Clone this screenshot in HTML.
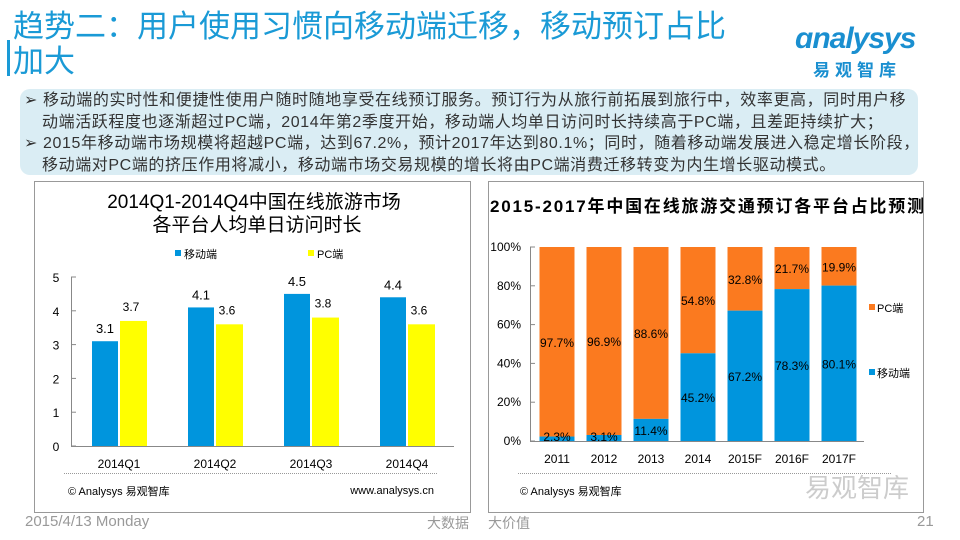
<!DOCTYPE html>
<html><head><meta charset="utf-8">
<style>
body{margin:0;width:960px;height:540px;background:#fff;position:relative;overflow:hidden;font-family:"Liberation Sans","Noto Sans CJK SC",sans-serif}
.a{position:absolute;white-space:nowrap}
</style></head><body>
<div class="a" style="left:7px;top:40px;width:3px;height:36px;background:#1a9ad6"></div>
<div class="a" style="left:13px;top:9px;font-size:31px;line-height:35px;color:#1a9ad6;white-space:normal;width:770px">趋势二：用户使用习惯向移动端迁移，移动预订占比<br>加大</div>
<div class="a" style="left:795px;top:22px;color:#1a8fd0;font-weight:bold">
<div style="font-size:30px;font-style:italic;letter-spacing:-1px">ɑnalysys</div>
<div style="font-size:17px;letter-spacing:5px;margin-left:18px">易观智库</div></div>
<div class="a" style="left:20px;top:89px;width:898px;height:86px;background:#daedf4;border-radius:10px"></div>
<div class="a" style="left:24px;top:90px;font-size:16px;letter-spacing:0.6px;line-height:21.5px;color:#333">
<div>➢ 移动端的实时性和便捷性使用户随时随地享受在线预订服务。预订行为从旅行前拓展到旅行中，效率更高，同时用户移</div>
<div style="padding-left:18px">动端活跃程度也逐渐超过PC端，2014年第2季度开始，移动端人均单日访问时长持续高于PC端，且差距持续扩大；</div>
<div>➢ 2015年移动端市场规模将超越PC端，达到67.2%，预计2017年达到80.1%；同时，随着移动端发展进入稳定增长阶段，</div>
<div style="padding-left:18px">移动端对PC端的挤压作用将减小，移动端市场交易规模的增长将由PC端消费迁移转变为内生增长驱动模式。</div></div>

<svg class="a" style="left:0;top:0" width="960" height="540">
<rect x="34.5" y="181.5" width="436" height="331" fill="none" stroke="#999"/>
<rect x="488.5" y="181.5" width="435" height="331" fill="none" stroke="#999"/>
<g id="L"></g><g id="R"></g>
</svg>

<div class="a" style="left:25px;top:513px;font-size:15px;color:#999">2015/4/13 Monday</div>
<div class="a" style="left:427px;top:513px;font-size:14px;color:#999">大数据</div>
<div class="a" style="left:488px;top:513px;font-size:14px;color:#999">大价值</div>
<div class="a" style="left:917px;top:513px;font-size:15px;color:#999">21</div>

<script>
const quarters=["2014Q1","2014Q2","2014Q3","2014Q4"];
const mobileTime=[3.1,4.1,4.5,4.4];
const pcTime=[3.7,3.6,3.8,3.6];
const leftTicks=[0,1,2,3,4,5];
const years=["2011","2012","2013","2014","2015F","2016F","2017F"];
const mobileShare=[2.3,3.1,11.4,45.2,67.2,78.3,80.1];
const pcShare=[97.7,96.9,88.6,54.8,32.8,21.7,19.9];
const rightTicks=[0,20,40,60,80,100];

const NS="http://www.w3.org/2000/svg";
function mk(p,t,a,txt){const e=document.createElementNS(NS,t);for(const k in a)e.setAttribute(k,a[k]);if(txt!==undefined)e.textContent=txt;p.appendChild(e);return e;}
const F='"Liberation Sans","Noto Sans CJK SC",sans-serif';

// LEFT
const L=document.getElementById('L');
const ly=v=>446-v*33.8, lx=i=>119+i*96;
let t=mk(L,'text',{x:254,y:208,'font-size':19,'text-anchor':'middle','font-family':F},'2014Q1-2014Q4中国在线旅游市场');

t=mk(L,'text',{x:257,y:231,'font-size':19,'text-anchor':'middle','font-family':F},'各平台人均单日访问时长');

t=mk(L,'rect',{x:175,y:250,width:6,height:6,fill:'#0095dd'});

t=mk(L,'text',{x:184,y:258,'font-size':11,'font-family':F},'移动端');

t=mk(L,'rect',{x:308,y:250,width:6,height:6,fill:'#ffff00'});

t=mk(L,'text',{x:317,y:258,'font-size':11,'font-family':F},'PC端');

leftTicks.forEach(v=>{
 t=mk(L,'text',{x:56,y:ly(v)+5,'font-size':12,'text-anchor':'middle','font-family':F},String(v));
 
 mk(L,'line',{x1:71,x2:76,y1:ly(v),y2:ly(v),stroke:'#888'});
});
mk(L,'line',{x1:71.5,x2:71.5,y1:ly(5),y2:446,stroke:'#888'});
mk(L,'line',{x1:71,x2:454,y1:446.5,y2:446.5,stroke:'#888'});
quarters.forEach((q,i)=>{
 const c=lx(i);
 t=mk(L,'rect',{x:c-27,y:ly(mobileTime[i]),width:26,height:446-ly(mobileTime[i]),fill:'#0095dd'});
 
 t=mk(L,'rect',{x:c+1,y:ly(pcTime[i]),width:27,height:446-ly(pcTime[i]),fill:'#ffff00'});
 
 t=mk(L,'text',{x:c-14,y:ly(mobileTime[i])-8,'font-size':13,'text-anchor':'middle','font-family':F},mobileTime[i].toFixed(1));
 
 t=mk(L,'text',{x:c+12,y:ly(pcTime[i])-10,'font-size':12,'text-anchor':'middle','font-family':F},pcTime[i].toFixed(1));
 
 t=mk(L,'text',{x:c,y:468,'font-size':12,'text-anchor':'middle','font-family':F},q);
 
});
mk(L,'line',{x1:64,x2:438,y1:473.5,y2:473.5,stroke:'#999','stroke-dasharray':'1,1'});
t=mk(L,'text',{x:68,y:495,'font-size':11,'font-family':F},'© Analysys 易观智库');

t=mk(L,'text',{x:434,y:494,'font-size':11,'text-anchor':'end','font-family':F},'www.analysys.cn');


// RIGHT
const R=document.getElementById('R');
const ry=v=>441-v*1.94, rx=i=>557+i*47;
t=mk(R,'text',{x:490,y:212,'font-size':17,'font-weight':'bold','font-family':F,textLength:434},'2015-2017年中国在线旅游交通预订各平台占比预测');

rightTicks.forEach(v=>{
 t=mk(R,'text',{x:521,y:ry(v)+4,'font-size':12,'text-anchor':'end','font-family':F},v+'%');
 
 mk(R,'line',{x1:530,x2:535,y1:ry(v),y2:ry(v),stroke:'#888'});
});
mk(R,'line',{x1:530.5,x2:530.5,y1:ry(100),y2:441,stroke:'#888'});
mk(R,'line',{x1:530,x2:864,y1:441.5,y2:441.5,stroke:'#888'});
years.forEach((y,i)=>{
 const c=rx(i),m=ry(mobileShare[i]);
 t=mk(R,'rect',{x:c-17.5,y:ry(100),width:35,height:m-ry(100),fill:'#fb7a1f'});
 
 t=mk(R,'rect',{x:c-17.5,y:m,width:35,height:441-m,fill:'#0095dd'});
 
 t=mk(R,'text',{x:c,y:(ry(100)+m)/2+5,'font-size':12,'text-anchor':'middle','font-family':F},pcShare[i].toFixed(1)+'%');
 
 t=mk(R,'text',{x:c,y:Math.min((m+441)/2+5,441),'font-size':12,'text-anchor':'middle','font-family':F},mobileShare[i].toFixed(1)+'%');
 
 t=mk(R,'text',{x:c,y:463,'font-size':12,'text-anchor':'middle','font-family':F},y);
 
});
t=mk(R,'rect',{x:869,y:304,width:6,height:6,fill:'#fb7a1f'});

t=mk(R,'text',{x:877,y:312,'font-size':11,'font-family':F},'PC端');

t=mk(R,'rect',{x:869,y:369,width:6,height:6,fill:'#0095dd'});

t=mk(R,'text',{x:877,y:377,'font-size':11,'font-family':F},'移动端');

mk(R,'line',{x1:518,x2:892,y1:473.5,y2:473.5,stroke:'#999','stroke-dasharray':'1,1'});
t=mk(R,'text',{x:520,y:495,'font-size':11,'font-family':F},'© Analysys 易观智库');

t=mk(R,'text',{x:805,y:497,'font-size':26,'fill':'#ccc','font-family':F},'易观智库');

</script>
</body></html>
